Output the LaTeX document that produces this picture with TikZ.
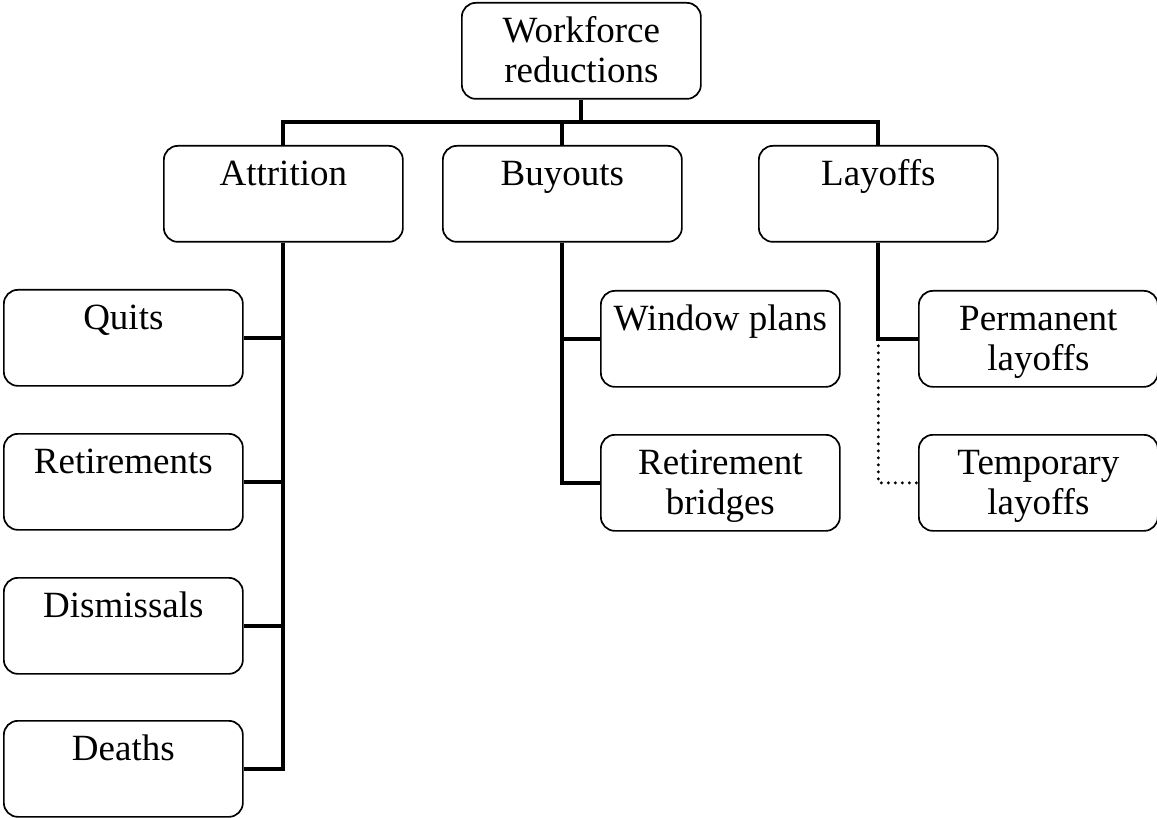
\documentclass[tikz,border=0pt]{standalone}
\usepackage{fontspec}
\setmainfont{Liberation Serif}
\newcommand{\boxtxt}[1]{\parbox[t][96pt][t]{239pt}{\centering\rule{0pt}{40pt}#1}}
\tikzset{
  orgbox/.style={draw, line width=1.7pt, rounded corners=14pt, inner sep=0pt, anchor=north west,
    font=\fontsize{37}{40}\selectfont},
  conn/.style={line width=4.2pt},
  dotconn/.style={line width=3.4pt, line cap=round, dash pattern=on 0pt off 7pt}
}
\begin{document}
\begin{tikzpicture}[x=1pt,y=-1pt]
\useasboundingbox (0,0) rectangle (1157,818);
\node[orgbox] (wr) at (461,2) {\boxtxt{Workforce\\reductions}};
\node[orgbox] (att) at (163,145) {\boxtxt{Attrition}};
\node[orgbox] (buy) at (442,145) {\boxtxt{Buyouts}};
\node[orgbox] (lay) at (758,145) {\boxtxt{Layoffs}};
\node[orgbox] (qu) at (3,289) {\boxtxt{Quits}};
\node[orgbox] (re) at (3,433) {\boxtxt{Retirements}};
\node[orgbox] (di) at (3,577) {\boxtxt{Dismissals}};
\node[orgbox] (de) at (3,720) {\boxtxt{Deaths}};
\node[orgbox] (wp) at (600,290) {\boxtxt{Window plans}};
\node[orgbox] (rb) at (600,434) {\boxtxt{Retirement\\bridges}};
\node[orgbox] (pl) at (918,290) {\boxtxt{Permanent\\layoffs}};
\node[orgbox] (tl) at (918,434) {\boxtxt{Temporary\\layoffs}};
\coordinate (bus) at (0,122);
\draw[conn] (wr.south) -- (wr.south |- bus);
\draw[conn] (att.north) -- (att.north |- bus) -- (lay.north |- bus) -- (lay.north);
\draw[conn] (buy.north) -- (buy.north |- bus);
% attrition
\draw[conn] (att.south) |- (de.east);
\draw[conn] (qu.east) -- (qu.east -| att.south);
\draw[conn] (re.east) -- (re.east -| att.south);
\draw[conn] (di.east) -- (di.east -| att.south);
% buyouts
\draw[conn] (buy.south) |- (rb.west);
\draw[conn] (wp.west) -- (wp.west -| buy.south);
% layoffs
\draw[conn] (lay.south) |- (pl.west);
\draw[dotconn] (pl.west -| lay.south) |- (tl.west);
\end{tikzpicture}
\end{document}
